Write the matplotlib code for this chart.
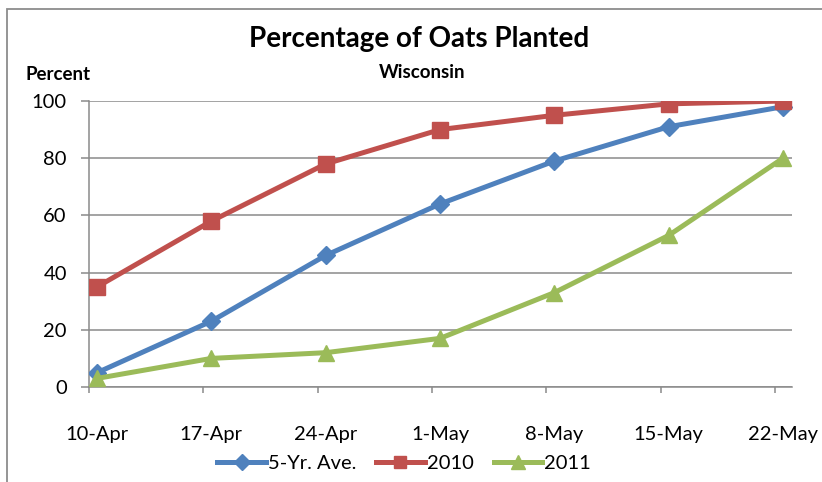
import numpy as np
import matplotlib.pyplot as plt
from matplotlib.patches import Rectangle
from matplotlib.ticker import FixedLocator

dates = ['10-Apr', '17-Apr', '24-Apr', '1-May', '8-May', '15-May', '22-May']
ave5 = [5, 23, 46, 64, 79, 91, 98]
y2010 = [35, 58, 78, 90, 95, 99, 100]
y2011 = [3, 10, 12, 17, 33, 53, 80]

plt.rcParams['font.family'] = ['Lato', 'DejaVu Sans']

W, H = 822, 482
fig = plt.figure(figsize=(W / 100, H / 100), dpi=100)
ax = fig.add_axes([89 / W, 1 - 387 / H, (792 - 89) / W, (387 - 101) / H])

# outer chart border (right and bottom edges run off the image)
fig.patches.append(Rectangle((7 / W, -0.1), 1.2, 1 - 9 / H + 0.1, transform=fig.transFigure,
                             fill=False, edgecolor='#8c8c8c', linewidth=1.3))

x = np.arange(len(dates))
grid_c = '#8a8a8a'
for yv in range(0, 101, 20):
    ax.axhline(yv, color=grid_c, linewidth=1.1, zorder=1)

ax.plot(x, ave5, color='#4F81BD', linewidth=3.6, marker='D', markersize=9,
        label='5-Yr. Ave.', zorder=3)
ax.plot(x, y2010, color='#C0504D', linewidth=3.6, marker='s', markersize=11,
        label='2010', zorder=3)
ax.plot(x, y2011, color='#9BBB59', linewidth=3.6, marker='^', markersize=12,
        label='2011', zorder=3)

off = 8 / 114.3
ax.set_xlim(-off, len(dates) - 1 + 9 / 114.3)
ax.set_ylim(0, 100)
ax.set_yticks(range(0, 101, 20))
ax.set_xticks(x)
ax.set_xticklabels(dates)
ax.xaxis.set_minor_locator(FixedLocator(x - off))

for s in ['top', 'right']:
    ax.spines[s].set_visible(False)
for s in ['left', 'bottom']:
    ax.spines[s].set_color(grid_c)
    ax.spines[s].set_linewidth(1.1)

ax.tick_params(axis='y', length=6, width=1.1, color=grid_c, direction='out',
               labelsize=14.5, pad=10)
ax.tick_params(axis='x', which='major', length=0, labelsize=14.5, pad=28)
ax.tick_params(axis='x', which='minor', length=4.5, width=1.1, color=grid_c, direction='out')

fig.text(419 / W, 1 - 39 / H, 'Percentage of Oats Planted', ha='center', va='center',
         fontsize=20, fontweight='bold')
fig.text(422 / W, 1 - 73 / H, 'Wisconsin', ha='center', va='center',
         fontsize=13.5, fontweight='bold')
fig.text(25 / W, 1 - 75 / H, 'Percent', ha='left', va='center',
         fontsize=13.5, fontweight='bold')

fig.legend(loc='center', bbox_to_anchor=(404 / W, 1 - 463 / H), ncol=3, frameon=False,
           fontsize=14.5, handlelength=2.4, handletextpad=0.1, columnspacing=1.0,
           borderpad=0, markerscale=0.85)

fig.savefig('out.png', dpi=100)
